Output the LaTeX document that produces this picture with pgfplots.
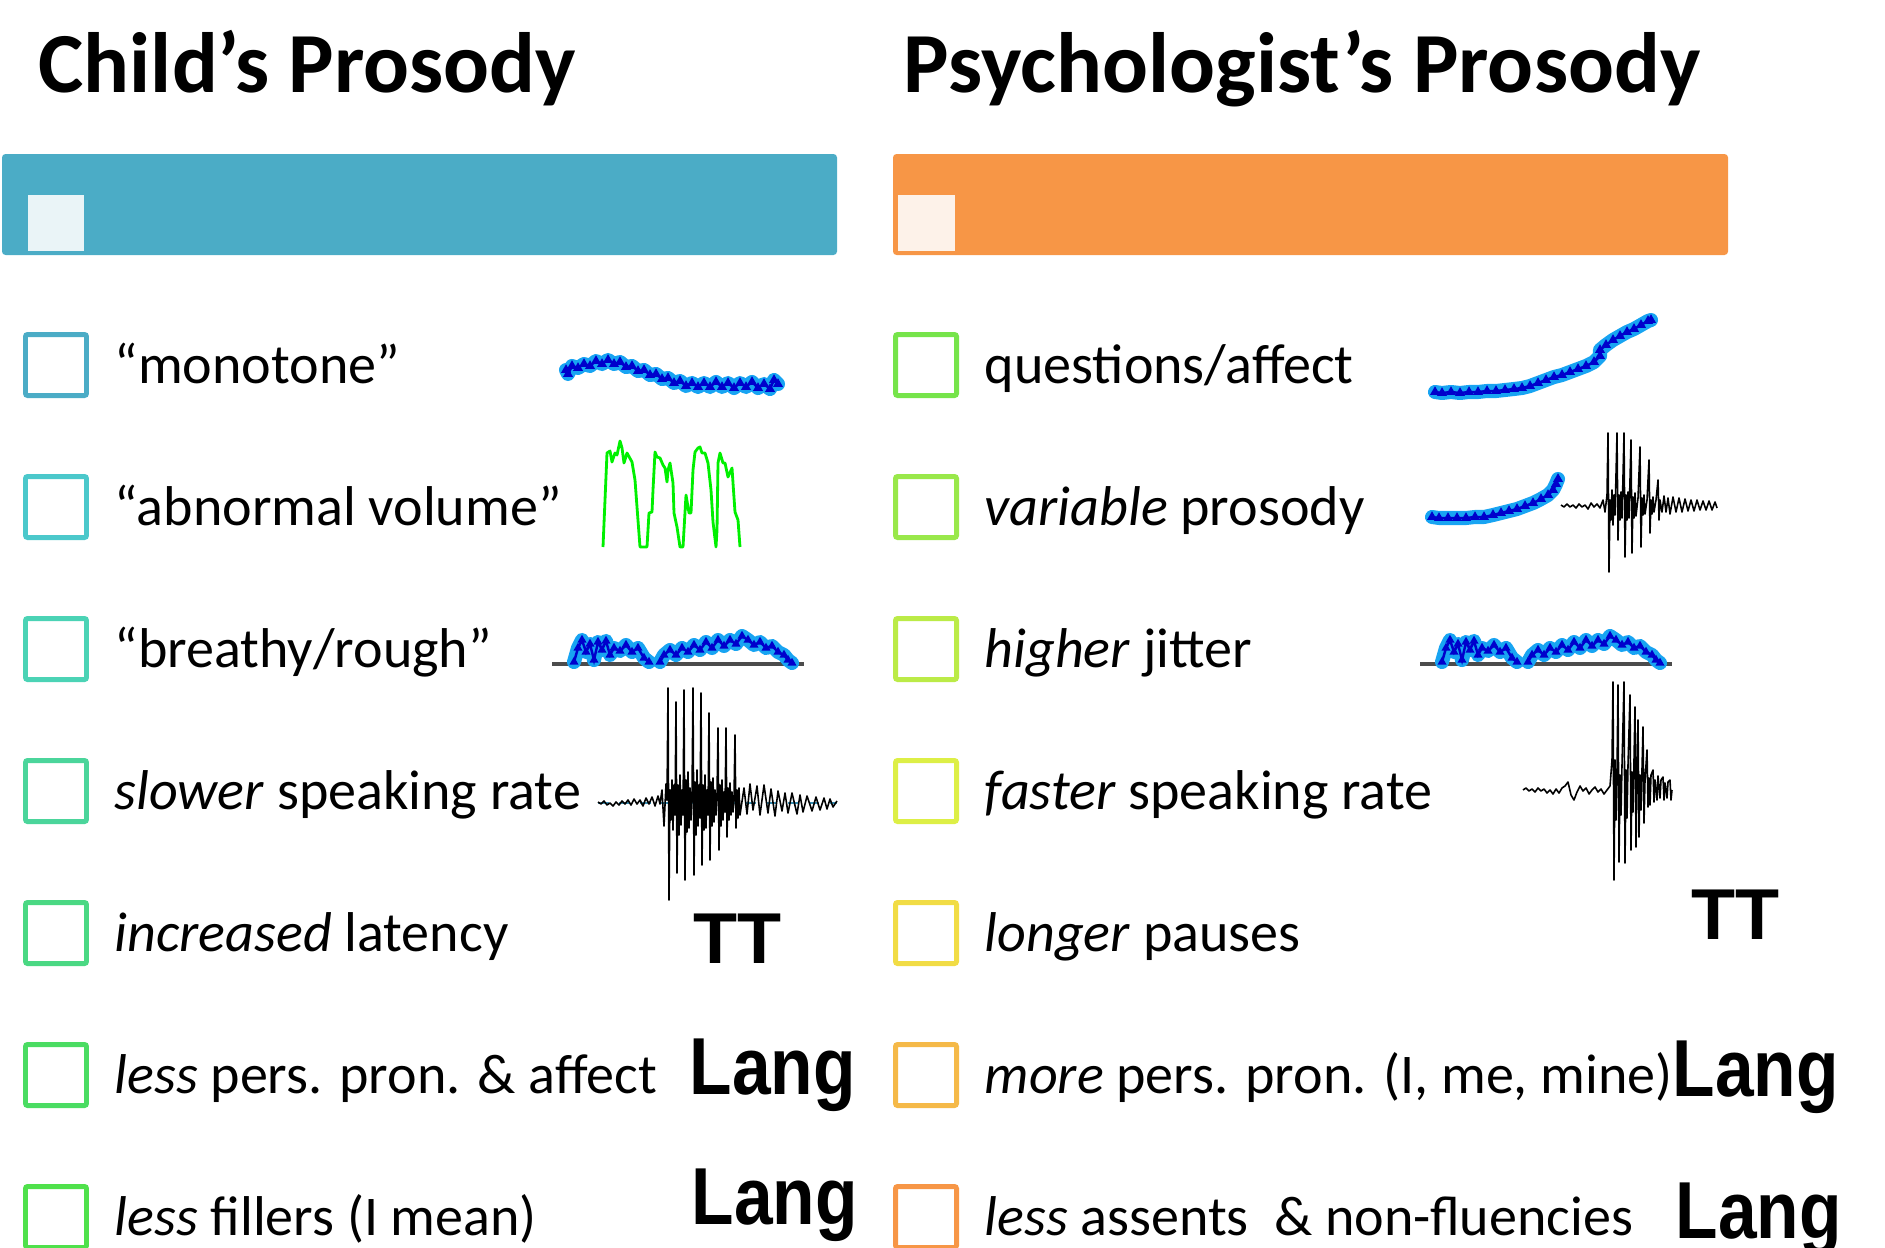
\documentclass[border=0pt]{standalone}
\usepackage{fontspec}
\setmainfont{Carlito}
\newfontfamily\arialb{Liberation Sans}
\usepackage{graphicx}
\usepackage{pgfplots}
\usepackage{pgfplotstable}
\pgfplotsset{compat=1.18}

\definecolor{barblue}{HTML}{4BACC6}
\definecolor{barorange}{HTML}{F79646}
\definecolor{sqblue}{HTML}{EAF4F7}
\definecolor{sqorange}{HTML}{FDF2E9}
\definecolor{glowblue}{HTML}{18A4F2}
\definecolor{coreblue}{HTML}{0000CC}
\definecolor{volgreen}{HTML}{00F000}
\definecolor{Lone}{HTML}{4BACC6}
\definecolor{Ltwo}{HTML}{4BC8CB}
\definecolor{Lthree}{HTML}{4BD3B5}
\definecolor{Lfour}{HTML}{4BD59B}
\definecolor{Lfive}{HTML}{4AD883}
\definecolor{Lsix}{HTML}{4ADC62}
\definecolor{Lseven}{HTML}{4FE14B}
\definecolor{Rone}{HTML}{76E44A}
\definecolor{Rtwo}{HTML}{99E84A}
\definecolor{Rthree}{HTML}{BBEB47}
\definecolor{Rfour}{HTML}{DDEF46}
\definecolor{Rfive}{HTML}{F1DC45}
\definecolor{Rsix}{HTML}{F5B948}
\definecolor{Rseven}{HTML}{F79646}

% jitter contour, used twice (breathy/rough and higher jitter)
\pgfplotstableread{
x y
574 662
578 648
582 640
586 652
590 644
594 660
598 642
602 650
606 641
610 655
614 648
620 651
626 645
632 652
638 648
644 658
649 662
nan nan
660 662
664 655
670 650
676 655
682 648
688 652
694 645
700 650
706 642
712 648
718 640
724 646
730 640
736 644
742 636
748 640
754 645
760 642
766 648
772 646
778 652
784 655
788 660
792 663
}\jitter

\newcommand{\rowtext}[3]{\node[anchor=base west, inner sep=0] at (axis cs:#1,#2) {\fontsize{15.95}{18}\selectfont #3};}
\newcommand{\tag}[3]{\node[anchor=base west, inner sep=0] at (axis cs:#1,#2) {\arialb\bfseries #3};}

\begin{document}
\begin{tikzpicture}
\begin{axis}[
    name=ax,
    scale only axis,
    width=18.85cm, height=12.47cm,
    xmin=0, xmax=1885, ymin=0, ymax=1247,
    y dir=reverse,
    hide axis,
    clip=false,
    cb/.style={line width=1.42pt, rounded corners=0.6pt},
    glow/.style={draw=glowblue, line width=4.0pt, line join=round, line cap=round, unbounded coords=jump},
    core/.style={draw=coreblue, line width=0.7pt, mark=triangle*, mark size=0.95pt, mark options={fill=coreblue, draw=coreblue}, unbounded coords=jump},
    wave/.style={black, line width=0.45pt, line join=round},
]
% header bars
\addplot[fill=barblue, draw=none, rounded corners=1pt] coordinates {(2,154) (837,154) (837,255) (2,255)} -- cycle;
\addplot[fill=sqblue, draw=none] coordinates {(28,195) (84,195) (84,251) (28,251)} -- cycle;
\addplot[fill=barorange, draw=none, rounded corners=1pt] coordinates {(893,154) (1728,154) (1728,255) (893,255)} -- cycle;
\addplot[fill=sqorange, draw=none] coordinates {(898,195) (955,195) (955,251) (898,251)} -- cycle;

% check boxes, left column
\addplot[cb, draw=Lone]   coordinates {(25.5,334.5) (86.5,334.5) (86.5,395.5) (25.5,395.5)} -- cycle;
\addplot[cb, draw=Ltwo]   coordinates {(25.5,476.5) (86.5,476.5) (86.5,537.5) (25.5,537.5)} -- cycle;
\addplot[cb, draw=Lthree] coordinates {(25.5,618.5) (86.5,618.5) (86.5,679.5) (25.5,679.5)} -- cycle;
\addplot[cb, draw=Lfour]  coordinates {(25.5,760.5) (86.5,760.5) (86.5,821.5) (25.5,821.5)} -- cycle;
\addplot[cb, draw=Lfive]  coordinates {(25.5,902.5) (86.5,902.5) (86.5,963.5) (25.5,963.5)} -- cycle;
\addplot[cb, draw=Lsix]   coordinates {(25.5,1044.5) (86.5,1044.5) (86.5,1105.5) (25.5,1105.5)} -- cycle;
\addplot[cb, draw=Lseven] coordinates {(25.5,1186.5) (86.5,1186.5) (86.5,1247.5) (25.5,1247.5)} -- cycle;
% check boxes, right column
\addplot[cb, draw=Rone]   coordinates {(895.5,334.5) (956.5,334.5) (956.5,395.5) (895.5,395.5)} -- cycle;
\addplot[cb, draw=Rtwo]   coordinates {(895.5,476.5) (956.5,476.5) (956.5,537.5) (895.5,537.5)} -- cycle;
\addplot[cb, draw=Rthree] coordinates {(895.5,618.5) (956.5,618.5) (956.5,679.5) (895.5,679.5)} -- cycle;
\addplot[cb, draw=Rfour]  coordinates {(895.5,760.5) (956.5,760.5) (956.5,821.5) (895.5,821.5)} -- cycle;
\addplot[cb, draw=Rfive]  coordinates {(895.5,902.5) (956.5,902.5) (956.5,963.5) (895.5,963.5)} -- cycle;
\addplot[cb, draw=Rsix]   coordinates {(895.5,1044.5) (956.5,1044.5) (956.5,1105.5) (895.5,1105.5)} -- cycle;
\addplot[cb, draw=Rseven] coordinates {(895.5,1186.5) (956.5,1186.5) (956.5,1247.5) (895.5,1247.5)} -- cycle;

% monotone pitch contour
\addplot[glow] coordinates {(566,370) (568,374) (572,366) (578,368) (584,364) (590,366) (596,361) (602,364) (608,360) (614,364) (620,362) (626,367) (632,366) (638,371) (644,370) (650,375) (656,374) (662,379) (668,378) (674,383) (680,381) (686,386) (692,383) (698,387) (704,383) (710,387) (716,382) (722,387) (728,383) (734,388) (740,383) (746,387) (752,382) (758,388) (764,384) (770,389) (774,380) (778,384)};
\addplot[core] coordinates {(566,370) (568,374) (572,366) (578,368) (584,364) (590,366) (596,361) (602,364) (608,360) (614,364) (620,362) (626,367) (632,366) (638,371) (644,370) (650,375) (656,374) (662,379) (668,378) (674,383) (680,381) (686,386) (692,383) (698,387) (704,383) (710,387) (716,382) (722,387) (728,383) (734,388) (740,383) (746,387) (752,382) (758,388) (764,384) (770,389) (774,380) (778,384)};

% abnormal volume envelope
\addplot[volgreen, line width=0.8pt, line join=round] coordinates {
(603,547) (605,500) (607,453) (610,451) (612,462) (615,453) (617,455) (620,441) (622,448) (624,463) (627,453) (632,462) (635,480) (637,507) (640,547)
(647,547) (649,513) (652,512) (653,490) (655,452) (657,457) (660,458) (663,465) (665,468) (667,482) (668,470) (670,463) (673,483) (674,513) (677,527) (680,547)
(683,547) (686,495) (689,513) (691,513) (693,470) (695,452) (698,448) (700,447) (702,453) (705,453) (708,463) (711,490) (713,522) (716,547)
(717,530) (718,463) (720,453) (723,463) (725,463) (728,477) (732,468) (733,483) (735,512) (738,520) (740,547)};

% breathy / rough
\addplot[black!70, line width=0.9pt] coordinates {(552,664) (804,664)};
\addplot[glow] table[x=x, y=y] {\jitter};
\addplot[core, mark size=0.8pt] table[x=x, y=y] {\jitter};

% slower speaking rate waveform
\addplot[cyan!70!black, dashed, line width=0.3pt] coordinates {(598,803) (837,803)};
\addplot[wave] coordinates {
(598,802) (601,804) (604,801) (607,805) (610,803) (613,806) (616,802) (619,805) (622,801) (625,804) (628,800) (631,805) (634,799) (637,804) (640,800) (643,806) (646,798) (649,804) (652,797) (655,806) (658,796) (660,804) (662,790) (664,826) (666,784)
(667,800) (668,688) (669,900) (670,790) (671,820) (672,780) (673,830) (674,785) (675,815)
(676,702) (677,873) (678,785) (679,835) (680,775) (681,825) (682,790) (683,815)
(684,690) (685,880) (686,780) (687,832) (688,772) (689,828) (690,788) (691,820) (692,795)
(693,688) (694,875) (695,782) (696,835) (697,770) (698,826) (699,785) (700,818)
(701,693) (702,865) (703,785) (704,830) (705,775) (706,828) (707,790) (708,815)
(709,713) (710,860) (711,782) (712,826) (713,778) (714,822) (715,790) (716,815) (717,795)
(718,728) (719,850) (720,785) (721,826) (722,780) (723,820) (724,792) (725,812)
(726,728) (727,837) (728,788) (729,820) (730,783) (731,815) (732,792) (733,812) (734,797)
(735,735) (736,828) (737,790) (738,818) (739,788) (740,815)
(744,788) (747,814) (750,784) (753,810) (757,786) (760,815) (764,785) (768,813) (771,789) (775,816) (778,791) (782,811) (785,793) (788,813) (792,793) (797,814) (800,795) (803,812) (807,796) (812,811) (816,797) (820,810) (824,798) (827,809) (830,799) (833,807) (837,801)};

% questions/affect contour
\addplot[glow] coordinates {(1435,392) (1442,393) (1451,392) (1460,393) (1469,392) (1478,392) (1487,391) (1496,391) (1505,390) (1514,389) (1522,388) (1530,386) (1538,383) (1546,380) (1554,377) (1562,375) (1570,372) (1578,369) (1586,366) (1594,362) (1600,356) (1600,350) (1606,345) (1613,340) (1620,336) (1627,332) (1634,329) (1641,325) (1648,321) (1651,320)};
\addplot[core] coordinates {(1435,392) (1442,393) (1451,392) (1460,393) (1469,392) (1478,392) (1487,391) (1496,391) (1505,390) (1514,389) (1522,388) (1530,386) (1538,383) (1546,380) (1554,377) (1562,375) (1570,372) (1578,369) (1586,366) (1594,362) (1600,356) (1600,350) (1606,345) (1613,340) (1620,336) (1627,332) (1634,329) (1641,325) (1648,321) (1651,320)};

% variable prosody: contour and waveform
\addplot[glow] coordinates {(1432,517) (1439,518) (1448,518) (1457,518) (1466,518) (1475,517) (1484,517) (1493,515) (1501,513) (1509,511) (1517,509) (1525,506) (1533,503) (1541,499) (1548,495) (1553,490) (1556,484) (1558,479)};
\addplot[core] coordinates {(1432,517) (1439,518) (1448,518) (1457,518) (1466,518) (1475,517) (1484,517) (1493,515) (1501,513) (1509,511) (1517,509) (1525,506) (1533,503) (1541,499) (1548,495) (1553,490) (1556,484) (1558,479)};
\addplot[wave] coordinates {
(1561,505) (1564,507) (1567,504) (1570,507) (1573,505) (1576,508) (1579,504) (1582,507) (1585,505) (1588,509) (1591,503) (1594,507) (1597,504) (1600,508) (1603,500) (1605,512)
(1607,495) (1608,433) (1609,572) (1610,500) (1611,520) (1612,490) (1613,525) (1614,495) (1615,515)
(1617,433) (1618,540) (1619,495) (1620,520) (1621,492) (1622,518)
(1624,433) (1625,557) (1626,495) (1627,520) (1628,492) (1629,518)
(1631,440) (1632,553) (1633,497) (1634,518) (1635,493) (1636,516) (1638,498)
(1640,447) (1641,547) (1642,498) (1643,515) (1644,495) (1645,514) (1647,500)
(1649,460) (1650,533) (1651,500) (1652,514) (1653,497) (1654,512) (1656,500)
(1658,480) (1659,520) (1660,500) (1662,512) (1664,496) (1666,512) (1668,498) (1670,514) (1673,497) (1676,512) (1679,498) (1682,512) (1685,499) (1688,511) (1691,500) (1694,511) (1697,500) (1700,510) (1703,501) (1706,510) (1709,501) (1712,510) (1715,502) (1717,508)};

% higher jitter (same contour, shifted)
\addplot[black!70, line width=0.9pt] coordinates {(1420,664) (1672,664)};
\addplot[glow] table[x expr=\thisrow{x}+868, y=y] {\jitter};
\addplot[core, mark size=0.8pt] table[x expr=\thisrow{x}+868, y=y] {\jitter};

% faster speaking rate waveform
\addplot[wave] coordinates {
(1523,790) (1526,788) (1529,791) (1532,789) (1535,792) (1538,788) (1541,791) (1544,789) (1547,793) (1550,790) (1553,794) (1556,789) (1559,793) (1562,788) (1565,786) (1568,782) (1571,795) (1574,800) (1577,792) (1580,786) (1583,791) (1586,788) (1589,794) (1592,790) (1595,787) (1598,792) (1601,789) (1604,794) (1607,790) (1610,786)
(1612,760) (1613,682) (1614,880) (1615,760) (1616,820) (1617,770) (1618,685) (1619,862) (1620,775) (1621,815) (1622,765) (1624,682) (1625,863) (1626,770) (1627,818) (1628,765) (1630,695) (1631,850) (1632,772) (1633,812) (1635,707) (1636,847) (1637,770) (1638,720) (1639,837) (1640,775) (1641,810) (1643,727) (1644,823) (1645,780) (1647,750) (1648,807) (1649,778) (1650,805) (1651,775) (1653,770) (1654,802) (1655,780) (1657,800) (1658,776) (1660,798) (1661,780) (1663,777) (1664,800) (1665,783) (1667,798) (1668,782) (1670,780) (1671,800) (1672,790)};

% titles
\node[anchor=base west, inner sep=0] at (axis cs:38,92) {\fontsize{24.35}{28}\selectfont\bfseries Child’s Prosody};
\node[anchor=base west, inner sep=0] at (axis cs:903,92) {\fontsize{24.35}{28}\selectfont\bfseries Psychologist’s Prosody};

% left labels
\rowtext{114}{383}{“monotone”}
\rowtext{114}{525}{“abnormal volume”}
\rowtext{114}{667}{“breathy/rough”}
\rowtext{114}{809}{\textit{slower} speaking rate}
\rowtext{114}{951}{\textit{increased} latency}
\rowtext{114}{1093}{\textit{less} pers. pron. \& affect}
\rowtext{114}{1235}{\textit{less} fillers (I mean)}
% right labels
\rowtext{984}{383}{questions/affect}
\rowtext{984}{525}{\textit{variable} prosody}
\rowtext{984}{667}{\textit{higher} jitter}
\rowtext{984}{809}{\textit{faster} speaking rate}
\rowtext{984}{951}{\textit{longer} pauses}
\rowtext{984}{1093}{\textit{more} pers. pron. (I, me, mine)}
\rowtext{984}{1235}{\textit{less} assents~ \& non-fluencies}

% TT / Lang tags
\tag{693}{963}{\fontsize{20.5}{24}\selectfont TT}
\tag{1691}{939}{\fontsize{20.5}{24}\selectfont TT}
\tag{689}{1094}{\fontsize{23}{27}\selectfont\scalebox{0.86}[1]{Lang}}
\tag{1672}{1096}{\fontsize{23}{27}\selectfont\scalebox{0.86}[1]{Lang}}
\tag{691}{1224}{\fontsize{23}{27}\selectfont\scalebox{0.86}[1]{Lang}}
\tag{1675}{1238}{\fontsize{23}{27}\selectfont\scalebox{0.86}[1]{Lang}}
\end{axis}
\pgfresetboundingbox
\path (ax.south west) rectangle (ax.north east);
\end{tikzpicture}
\end{document}
